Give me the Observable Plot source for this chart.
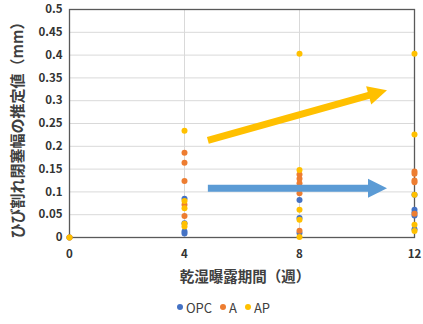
<!DOCTYPE html>
<html><head><meta charset="utf-8">
<script src="https://cdn.jsdelivr.net/npm/d3@7"></script>
<script src="https://cdn.jsdelivr.net/npm/@observablehq/plot@0.6"></script>
<style>
body{margin:0;background:#fff;font-family:"Noto Sans CJK JP","Noto Sans",sans-serif;}
#chart svg{display:block;}
#legend{display:flex;justify-content:center;align-items:center;height:34px;font-size:13px;color:#404040;padding-left:24px;box-sizing:border-box;width:423px;}
#legend span.item{display:inline-flex;align-items:center;margin:0 4px;}
#legend span.sw{display:inline-block;width:6px;height:6px;border-radius:50%;margin-right:3px;}
</style></head><body>
<div id="chart"></div>
<div id="legend"></div>
<script>
// Series (x = weeks, y = estimated crack closure width, mm)
const seriesNames = ["OPC", "A", "AP"];
const seriesColors = ["#4472C4", "#ED7D31", "#FFC000"];

const opcX = [0, 4, 4, 4, 4, 8, 8, 8, 12, 12, 12, 12, 12];
const opcY = [0, 0.085, 0.031, 0.013, 0.009, 0.082, 0.043, 0.010, 0.094, 0.061, 0.055, 0.048, 0.018];

const aX = [0, 4, 4, 4, 4, 4, 8, 8, 8, 8, 8, 12, 12, 12, 12, 12];
const aY = [0, 0.186, 0.164, 0.124, 0.072, 0.047, 0.138, 0.129, 0.119, 0.097, 0.015, 0.145, 0.140, 0.125, 0.121, 0.052];

const apX = [0, 4, 4, 4, 4, 4, 8, 8, 8, 8, 8, 12, 12, 12, 12, 12];
const apY = [0, 0.234, 0.080, 0.064, 0.030, 0.024, 0.403, 0.148, 0.061, 0.039, 0.001, 0.403, 0.226, 0.094, 0.028, 0.014];

const xTicks = [0, 4, 8, 12];
const yTicks = [0, 0.05, 0.1, 0.15, 0.2, 0.25, 0.3, 0.35, 0.4, 0.45, 0.5];
const xLabel = "乾湿曝露期間（週）";
const yLabel = "ひび割れ閉塞幅の推定値（mm）";

// Trend arrow annotations (data coordinates)
const arrowX1 = [4.83, 4.83];
const arrowY1 = [0.212, 0.107];
const arrowX2 = [11.06, 11.06];
const arrowY2 = [0.322, 0.107];
const arrowColors = ["#FFC000", "#5B9BD5"];

const rows = [];
[[opcX, opcY], [aX, aY], [apX, apY]].forEach(([xs, ys], i) => {
  xs.forEach((x, j) => rows.push({x, y: ys[j], s: seriesNames[i], c: seriesColors[i]}));
});
const arrows = arrowX1.map((x1, i) => ({x1, y1: arrowY1[i], x2: arrowX2[i], y2: arrowY2[i], c: arrowColors[i]}));

function arrowMark(index, scales) {
  const g = d3.create("svg:g");
  for (const a of arrows) {
    const x1 = scales.x(a.x1), y1 = scales.y(a.y1), x2 = scales.x(a.x2), y2 = scales.y(a.y2);
    const dx = x2 - x1, dy = y2 - y1, len = Math.hypot(dx, dy);
    const ux = dx / len, uy = dy / len, nx = -uy, ny = ux;
    const L = 19, W = 9.5;
    const bx = x2 - ux * L, by = y2 - uy * L;
    g.append("line").attr("x1", x1).attr("y1", y1).attr("x2", bx + ux).attr("y2", by + uy)
      .attr("stroke", a.c).attr("stroke-width", 7);
    g.append("polygon")
      .attr("points", [[x2, y2], [bx + nx * W, by + ny * W], [bx - nx * W, by - ny * W]].map(p => p.join(",")).join(" "))
      .attr("fill", a.c);
  }
  return g.node();
}

const chart = Plot.plot({
  width: 423,
  height: 290,
  marginLeft: 69,
  marginRight: 9,
  marginTop: 9,
  marginBottom: 53,
  style: {fontFamily: '"Noto Sans CJK JP", "Noto Sans", sans-serif', fontSize: "11px", fontWeight: "bold", color: "#333", background: "#fff"},
  x: {domain: [0, 12], ticks: xTicks},
  y: {domain: [0, 0.5], ticks: yTicks},
  marks: [
    Plot.gridY(yTicks, {stroke: "#d9d9d9", strokeOpacity: 1, strokeWidth: 1}),
    Plot.gridX(xTicks, {stroke: "#d9d9d9", strokeOpacity: 1, strokeWidth: 1}),
    Plot.frame({stroke: "#595959", strokeWidth: 1.3}),
    Plot.axisX(xTicks, {tickSize: 0, tickPadding: 12, fontSize: 11.5, fontWeight: "bold", label: null, tickFormat: d => String(d)}),
    Plot.axisY(yTicks, {tickSize: 0, tickPadding: 7, fontSize: 11.5, fontWeight: "bold", label: null, tickFormat: d => String(d)}),
    Plot.text([xLabel], {frameAnchor: "bottom", dy: 44, fontSize: 14.5, fontWeight: "bold", fill: "#404040", text: d => d, dx: 3}),
    Plot.text([yLabel], {frameAnchor: "left", dx: -51, dy: 3, rotate: -90, textAnchor: "middle", fontSize: 15, fontWeight: "bold", fill: "#404040", text: d => d}),
    Plot.dot(rows, {x: "x", y: "y", fill: "c", r: 3, stroke: null}),
    arrowMark
  ]
});
document.getElementById("chart").appendChild(chart);

const legend = document.getElementById("legend");
seriesNames.forEach((n, i) => {
  const it = document.createElement("span");
  it.className = "item";
  const sw = document.createElement("span");
  sw.className = "sw";
  sw.style.background = seriesColors[i];
  it.appendChild(sw);
  it.appendChild(document.createTextNode(n));
  legend.appendChild(it);
});
</script>
</body></html>
